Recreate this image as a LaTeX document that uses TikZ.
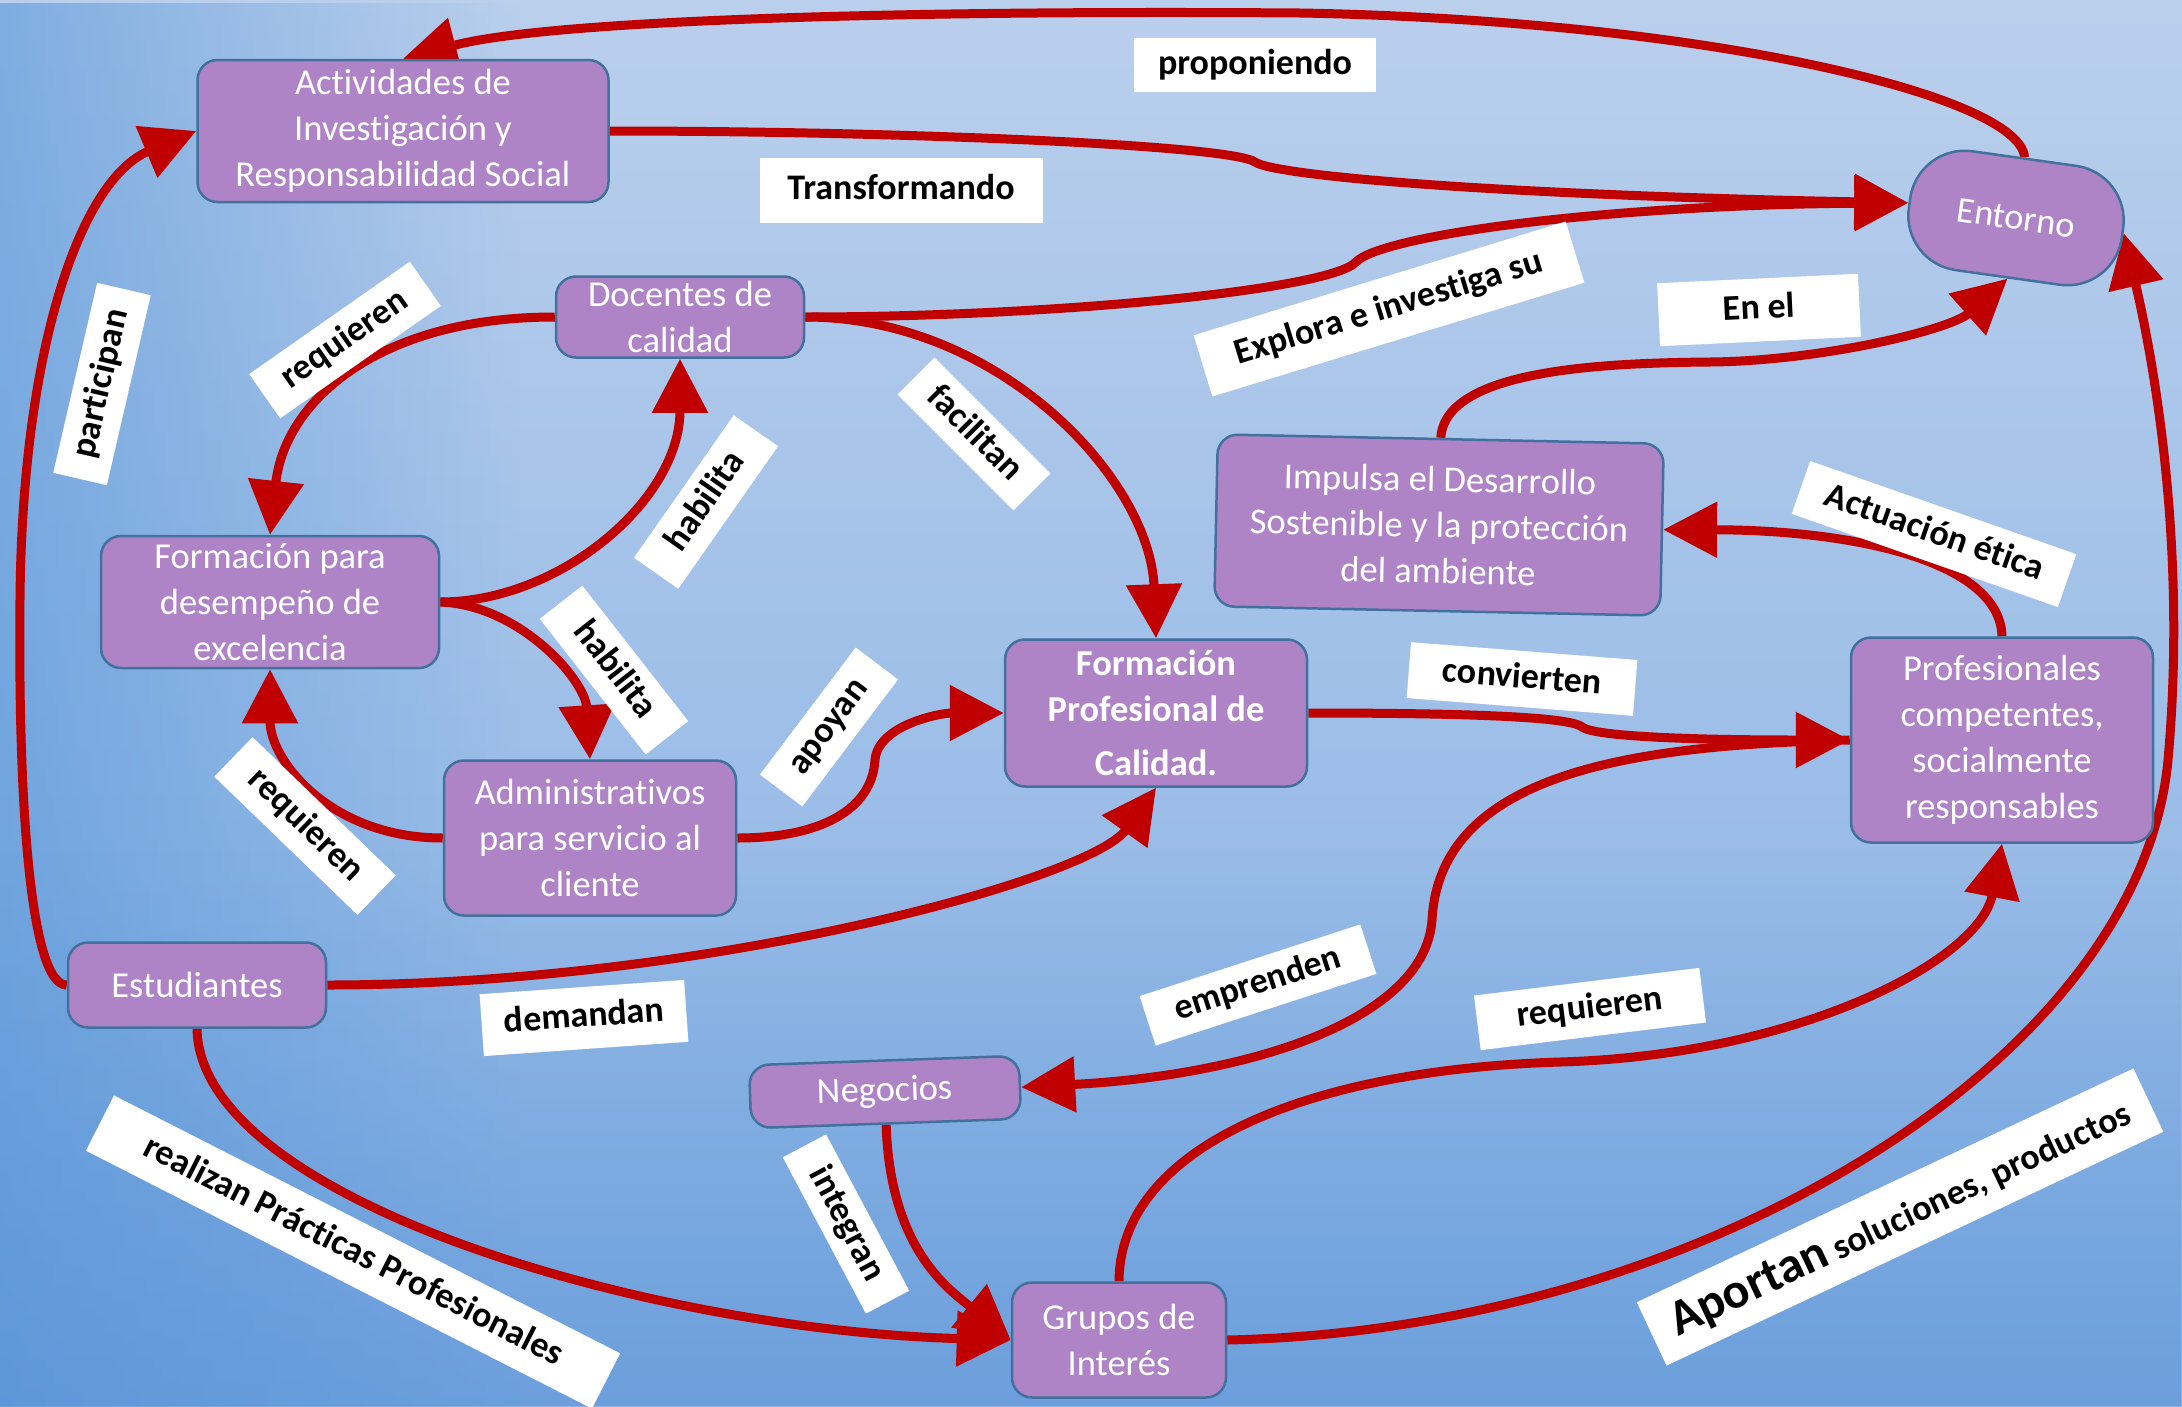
\documentclass[tikz,border=0pt]{standalone}
\usepackage{fontspec}
\setmainfont{Carlito}[Ligatures=NoCommon]
\usetikzlibrary{arrows.meta,fadings}
\definecolor{cred}{RGB}{192,0,0}
\definecolor{nfill}{RGB}{174,132,198}
\definecolor{nborder}{RGB}{65,113,156}
\definecolor{bgtop}{RGB}{186,207,236}
\definecolor{bgmid}{RGB}{172,200,234}
\definecolor{bgbot}{RGB}{132,176,228}
\definecolor{bgleft}{RGB}{80,146,216}
\definecolor{bgdeep}{RGB}{88,146,214}
\tikzfading[name=fromleft, left color=transparent!0, right color=transparent!100]
\tikzfading[name=frombottom, bottom color=transparent!0, top color=transparent!100]
\pgfdeclarelayer{bgl}
\pgfdeclarelayer{edges}
\pgfsetlayers{bgl,edges,main}
\newcommand{\nfont}{\fontsize{36.5}{46}\selectfont}
\newcommand{\lfont}{\bfseries\fontsize{36}{40}\selectfont}
\begin{document}
\begin{tikzpicture}[x=1pt,y=-1pt,
 box/.style={draw=nborder, line width=2.5pt, fill=nfill, rounded corners=20pt, text=white, font=\nfont, align=center, inner sep=0pt},
 sz/.style 2 args={minimum width=#1pt, minimum height=#2pt},
 lab/.style={fill=white, text=black, font=\lfont, inner sep=0pt, text height=27pt, text depth=9pt},
 conn/.style={draw=cred, line width=9pt, -{Triangle[length=54pt,width=54pt]}}]
\useasboundingbox (0,0) rectangle (2182,1406);
\begin{pgfonlayer}{bgl}
\fill[top color=bgtop, middle color=bgmid, bottom color=bgbot] (0,0) rectangle (2182,1406);
\fill[bgleft, path fading=fromleft, fill opacity=0.55] (0,0) rectangle (520,1406);
\fill[bgdeep, path fading=frombottom, fill opacity=0.55] (0,850) rectangle (2182,1406);
\end{pgfonlayer}

% nodes
\node[box, sz={411}{142}] (act) at (403,131) {Actividades de\\Investigación y\\Responsabilidad Social};
\node[box, sz={215}{120}, rounded corners=55pt, rotate=-8] (ent) at (2016,218) {Entorno};
\node[box, sz={248}{81}] (doc) at (680,317) {Docentes de\\calidad};
\node[box, sz={338}{132}] (fpara) at (270,602) {Formación para\\desempeño de\\excelencia};
\node[box, sz={292}{155}] (adm) at (590,838) {Administrativos\\para servicio al\\cliente};
\node[box, sz={302}{147}, font=\nfont\bfseries] (fpc) at (1156,713) {Formación\\Profesional de\\[8pt]Calidad.};
\node[box, sz={446}{172}, rotate=-1.2] (imp) at (1439,525) {Impulsa el Desarrollo\\Sostenible y la protección\\del ambiente};
\node[box, sz={302}{205}] (prof) at (2002,740) {Profesionales\\competentes,\\socialmente\\responsables};
\node[box, sz={258}{85}] (est) at (197,985) {Estudiantes};
\node[box, sz={270}{63}, rotate=2] (neg) at (885,1092) {Negocios};
\node[box, sz={214}{115}] (grp) at (1119,1340) {Grupos de\\Interés};

% labels
\node[lab, sz={242}{54}] (lprop) at (1255,65) {proponiendo};
\node[lab, sz={283}{65}] (ltrans) at (901,190) {Transformando};
\node[lab, sz={196}{54}, rotate=35] (lreq1) at (345,340) {requieren};
\node[lab, sz={195}{55}, rotate=77] (lpart) at (102,384) {participan};
\node[lab, sz={174}{54}, rotate=55] (lhab1) at (706,502) {habilita};
\node[lab, sz={172}{54}, rotate=-52] (lhab2) at (614,670) {habilita};
\node[lab, sz={164}{52}, rotate=-45] (lfac) at (974,434) {facilitan};
\node[lab, sz={199}{55}, rotate=-44] (lreq2) at (305,826) {requieren};
\node[lab, sz={159}{53}, rotate=53] (lapo) at (829,727) {apoyan};
\node[lab, sz={389}{64}, rotate=17] (lexp) at (1389,309) {Explora e investiga su};
\node[lab, sz={201}{63}, rotate=2.7] (lenel) at (1759,310) {En el};
\node[lab, sz={282}{56}, rotate=-19.3] (lact) at (1934,534) {Actuación ética};
\node[lab, sz={227}{56}, rotate=-4.5] (lconv) at (1522,679) {convierten};
\node[lab, sz={232}{52}, rotate=18] (lemp) at (1258,985) {emprenden};
\node[lab, sz={227}{55}, rotate=7] (lreq3) at (1590,1009) {requieren};
\node[lab, sz={205}{62}, rotate=4] (ldem) at (584,1018) {demandan};
\node[lab, sz={177}{49}, rotate=-62] (lint) at (846,1224) {integran};
\node[lab, sz={568}{62}, rotate=-27] (lreal) at (353,1252) {realizan Prácticas Profesionales};
\node[lab, sz={549}{70}, rotate=25.2, text height=36pt] (lapor) at (1900,1217) {{\fontsize{50}{54}\selectfont Aportan} soluciones, productos};

% connectors
\begin{pgfonlayer}{edges}
\draw[conn] (ent.north) .. controls (2020,95) and (1700,20) .. (1300,13) .. controls (900,10) and (550,20) .. (act.north);
\draw[conn] (act.east) .. controls (900,131) and (1230,145) .. (1255,162) .. controls (1275,176) and (1500,195) .. (ent.west);
\draw[conn] (doc.east) .. controls (1050,317) and (1330,290) .. (1356,262) .. controls (1380,236) and (1600,205) .. (ent.west);
\draw[conn] (doc.west) .. controls (380,317) and (285,400) .. (fpara.north);
\draw[conn] (fpara.east) .. controls (560,602) and (680,500) .. (doc.south);
\draw[conn] (fpara.east) .. controls (520,605) and (585,680) .. (adm.north);
\draw[conn] (adm.west) .. controls (330,838) and (270,760) .. (fpara.south);
\draw[conn] (adm.east) .. controls (820,838) and (872,810) .. (875,760) .. controls (878,725) and (940,713) .. (fpc.west);
\draw[conn] (doc.east) .. controls (1000,317) and (1150,480) .. (fpc.north);
\draw[conn] (est.east) .. controls (700,985) and (1090,880) .. (fpc.south);
\draw[conn] (prof.west) .. controls (1640,745) and (1440,770) .. (1432,920) .. controls (1425,1020) and (1250,1075) .. (neg.east);
\draw[conn] (fpc.east) .. controls (1450,713) and (1570,716) .. (1582,727) .. controls (1595,737) and (1700,740) .. (prof.west);
\draw[conn] (prof.north) .. controls (2000,560) and (1850,530) .. (imp.east);
\draw[conn] (imp.north) .. controls (1445,370) and (1600,363) .. (1710,362) .. controls (1820,361) and (1950,330) .. (ent.south);
\draw[conn] (grp.east) .. controls (1700,1330) and (2140,1060) .. (2168,760) .. controls (2186,560) and (2158,380) .. (ent.east);
\draw[conn] (est.west) .. controls (30,985) and (18,800) .. (20,600) .. controls (22,350) and (80,180) .. (act.west);
\draw[conn] (est.south) .. controls (200,1200) and (650,1330) .. (grp.west);
\draw[conn] (neg.south) .. controls (890,1250) and (950,1290) .. (grp.west);
\draw[conn] (grp.north) .. controls (1120,1150) and (1300,1070) .. (1560,1062) .. controls (1800,1055) and (1980,960) .. (prof.south);
\end{pgfonlayer}
\end{tikzpicture}
\end{document}
